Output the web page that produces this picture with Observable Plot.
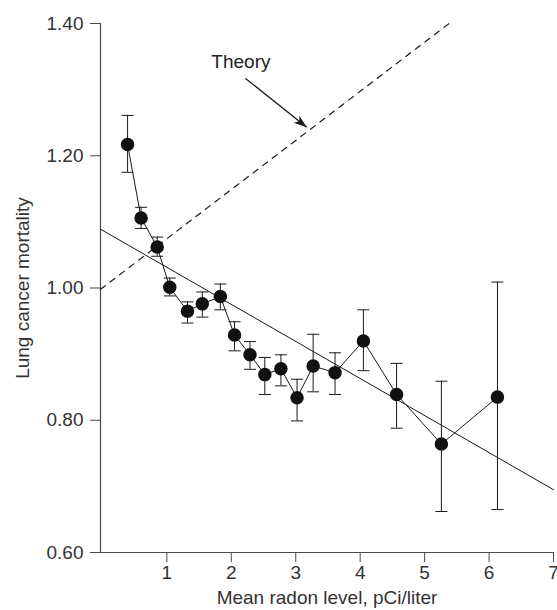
<!DOCTYPE html>
<html>
<head>
<meta charset="utf-8">
<script src="https://cdn.jsdelivr.net/npm/d3@7"></script>
<script src="https://cdn.jsdelivr.net/npm/@observablehq/plot@0.6"></script>
<style>
  html, body { margin: 0; padding: 0; background: #fff; }
  #chart svg text { font-size: 19px; }
</style>
</head>
<body>
<div id="chart"></div>
<script>
// Observed data (mean radon level, mortality, error bar bounds)
const radon = [0.39, 0.60, 0.85, 1.045, 1.32, 1.55, 1.83, 2.05, 2.29, 2.52, 2.77, 3.02, 3.27, 3.61, 4.05, 4.565, 5.26, 6.13];
const mortality = [1.217, 1.106, 1.062, 1.001, 0.965, 0.976, 0.987, 0.929, 0.899, 0.869, 0.878, 0.834, 0.882, 0.872, 0.920, 0.839, 0.764, 0.835];
const upper = [1.261, 1.122, 1.077, 1.015, 0.979, 0.994, 1.006, 0.949, 0.919, 0.895, 0.899, 0.862, 0.930, 0.902, 0.967, 0.886, 0.859, 1.009];
const lower = [1.175, 1.090, 1.048, 0.988, 0.947, 0.956, 0.967, 0.905, 0.877, 0.839, 0.852, 0.799, 0.843, 0.839, 0.875, 0.788, 0.662, 0.665];

// Fitted regression line
const fitX = [-0.03, 7];
const fitY = [1.089, 0.695];

// Theory line (dashed)
const theoryX = [-0.03, 5.38];
const theoryY = [0.998, 1.40];

// Annotation
const annoLabel = ["Theory"];
const annoTextX = [1.69];
const annoTextY = [1.342];
const arrowX = [2.22, 3.17];
const arrowY = [1.317, 1.243];

// Tick labels
const yTicks = [0.60, 0.80, 1.00, 1.20, 1.40];
const xTicks = [1, 2, 3, 4, 5, 6, 7];

const pts = radon.map((x, i) => ({x, y: mortality[i], hi: upper[i], lo: lower[i]}));
const fit = fitX.map((x, i) => ({x, y: fitY[i]}));
const theory = theoryX.map((x, i) => ({x, y: theoryY[i]}));
const anno = annoLabel.map((t, i) => ({t, x: annoTextX[i], y: annoTextY[i]}));
const arrow = [{x1: arrowX[0], y1: arrowY[0], x2: arrowX[1], y2: arrowY[1]}];

const capSymbol = {
  draw(ctx, size) {
    const r = Math.sqrt(size / Math.PI);
    ctx.moveTo(-r, 0);
    ctx.lineTo(r, 0);
  }
};
const headSymbol = {
  draw(ctx) {
    ctx.moveTo(0, 0);
    ctx.lineTo(-13, -4.5);
    ctx.lineTo(-9.5, 0);
    ctx.lineTo(-13, 4.5);
    ctx.closePath();
  }
};

const ink = "#1a1a1a";
const axisColor = "#4a4a4a";

const chart = Plot.plot({
  width: 557,
  height: 610,
  marginLeft: 100,
  marginRight: 4,
  marginTop: 23,
  marginBottom: 58,
  style: {fontFamily: "'Liberation Sans', Arial, Helvetica, sans-serif", fontSize: "19px", color: "#333"},
  x: {domain: [-0.03, 7]},
  y: {domain: [0.6, 1.4]},
  marks: [
    Plot.ruleX([-0.03], {stroke: axisColor, strokeWidth: 1.2}),
    Plot.ruleY([0.6], {stroke: axisColor, strokeWidth: 1.2}),
    Plot.axisY({
      ticks: yTicks, tickFormat: d3.format(".2f"), tickSize: 10, tickPadding: 7,
      stroke: axisColor, fill: "#333",
      label: "Lung cancer mortality", labelAnchor: "center", labelArrow: "none", labelOffset: 85
    }),
    Plot.axisX({
      ticks: xTicks, tickFormat: d3.format("d"), tickSize: 10, tickPadding: 3,
      stroke: axisColor, fill: "#333",
      label: "Mean radon level, pCi/liter", labelAnchor: "center", labelArrow: "none", labelOffset: 51
    }),
    Plot.line(theory, {x: "x", y: "y", stroke: ink, strokeWidth: 1.2, strokeDasharray: "6,6"}),
    Plot.line(fit, {x: "x", y: "y", stroke: ink, strokeWidth: 1}),
    Plot.line(pts, {x: "x", y: "y", stroke: ink, strokeWidth: 1}),
    Plot.ruleX(pts, {x: "x", y1: "lo", y2: "hi", stroke: ink, strokeWidth: 1}),
    Plot.dot(pts, {x: "x", y: "hi", symbol: capSymbol, r: 6, stroke: ink, strokeWidth: 1}),
    Plot.dot(pts, {x: "x", y: "lo", symbol: capSymbol, r: 6, stroke: ink, strokeWidth: 1}),
    Plot.dot(pts, {x: "x", y: "y", r: 6, fill: "#111", stroke: "#111"}),
    Plot.link(arrow, {x1: "x1", y1: "y1", x2: "x2", y2: "y2", stroke: ink, strokeWidth: 1.3}),
    Plot.dot(arrow, {x: "x2", y: "y2", symbol: headSymbol, rotate: 38.8, fill: ink, stroke: "none"}),
    Plot.text(anno, {x: "x", y: "y", text: "t", textAnchor: "start", fill: "#222"})
  ]
});
document.getElementById("chart").appendChild(chart);
</script>
</body>
</html>
